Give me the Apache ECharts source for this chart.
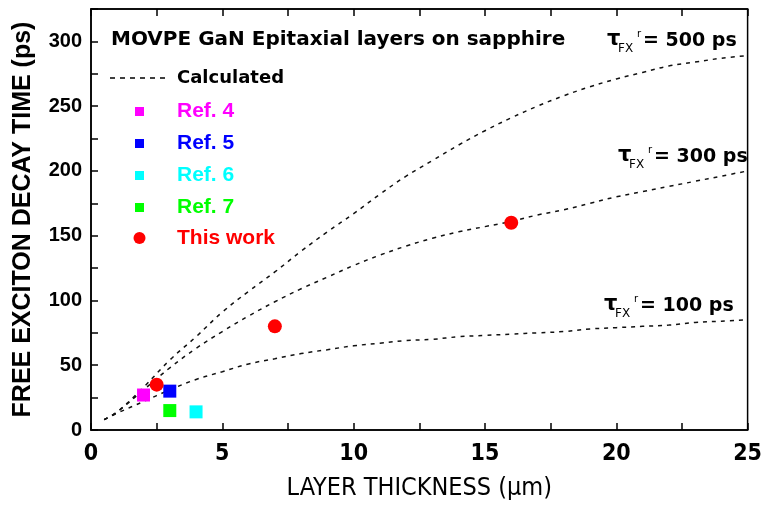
<!DOCTYPE html>
<html>
<head>
    <meta charset="utf-8">
    <title>Free exciton decay time</title>
    <script src="https://cdn.jsdelivr.net/npm/echarts@6.0.0/dist/echarts.min.js"></script>
</head>
<body style="margin:0;background:#fff;">
    <div id="main" style="width:765px;height:506px;"></div>
    <script type="text/javascript">
    // layer thickness (um) for the calculated curves
    var thickness = [0.5, 1, 2, 3, 4, 5, 6, 7, 8, 9, 10, 11, 12, 13, 14, 15, 16, 17, 18, 19, 20, 21, 22, 23, 24, 25];
    // calculated decay time (ps) for tau_FX^r = 500 / 300 / 100 ps
    var calc500 = [8, 14, 33, 54, 72, 91, 107, 122, 138, 153, 167, 182, 196, 208, 220, 231, 241, 250, 258, 265, 271, 276, 281, 284, 287, 289];
    var calc300 = [8, 14, 31, 48, 63, 76, 88, 99, 109, 118, 127, 135, 142, 148, 153, 157, 161, 166, 170, 175, 180, 184, 188, 192, 196, 200];
    var calc100 = [8, 13, 22, 31, 39, 45, 51, 55, 59, 62, 65, 67, 69, 70, 72, 73, 74, 75, 76, 78, 79, 80, 81, 83, 84, 85];

    // measured points [thickness, decay time]
    var ref4 = [[2, 27]];
    var ref5 = [[3, 30]];
    var ref6 = [[4, 14]];
    var ref7 = [[3, 15]];
    var thisWork = [[2.5, 35], [7, 80], [16, 160]];

    var xTicks = [0, 5, 10, 15, 20, 25];
    var yTicks = [0, 50, 100, 150, 200, 250, 300];

    function pairs(xs, ys) {
        var out = [];
        for (var i = 0; i < xs.length; i++) out.push([xs[i], ys[i]]);
        return out;
    }

    var black = '#000';
    var bold = 'bold';

    function curve(name, data) {
        return {
            name: name,
            type: 'line',
            data: pairs(thickness, data),
            smooth: 0.4,
            showSymbol: false,
            silent: true,
            lineStyle: { color: '#111', width: 1.5, type: [4, 5] },
            z: 2
        };
    }

    function points(name, data, symbol, size, color) {
        return {
            name: name,
            type: 'scatter',
            data: data,
            symbol: symbol,
            symbolSize: size,
            itemStyle: { color: color, opacity: 1 },
            z: 5
        };
    }

    // tau label: τ + FX subscript + r superscript + value
    function tauLabel(x, y, txt) {
        return {
            type: 'group',
            x: x,
            y: y,
            children: [
                { type: 'text', x: 0, y: 0, style: { text: 'τ', font: 'bold 21px "DejaVu Sans"', fill: black, verticalAlign: 'middle' } },
                { type: 'text', x: 11, y: 9, style: { text: 'FX', font: '12px "DejaVu Sans"', fill: black, verticalAlign: 'middle' } },
                { type: 'text', x: 30, y: -6, style: { text: 'r', font: '10px "DejaVu Sans"', fill: black, verticalAlign: 'middle' } },
                { type: 'text', x: 36, y: 1, style: { text: txt, font: 'bold 19px "DejaVu Sans"', fill: black, verticalAlign: 'middle' } }
            ]
        };
    }

    var legendRows = [
        { name: 'Ref. 4', color: '#ff00ff', y: 111, symbol: 'rect' },
        { name: 'Ref. 5', color: '#0000ff', y: 143, symbol: 'rect' },
        { name: 'Ref. 6', color: '#00ffff', y: 175, symbol: 'rect' },
        { name: 'Ref. 7', color: '#00ff00', y: 207, symbol: 'rect' },
        { name: 'This work', color: '#ff0000', y: 238, symbol: 'circle' }
    ];

    var graphics = [
        { type: 'text', x: 111, y: 40, style: { text: 'MOVPE GaN Epitaxial layers on sapphire', font: 'bold 20px "DejaVu Sans"', fill: black, verticalAlign: 'middle' } },
        { type: 'line', shape: { x1: 110, y1: 78, x2: 168, y2: 78 }, style: { stroke: black, lineWidth: 1.5, lineDash: [5, 5] } },
        { type: 'text', x: 177, y: 78, style: { text: 'Calculated', font: 'bold 18px "DejaVu Sans"', fill: black, verticalAlign: 'middle' } },
        tauLabel(607, 40, '= 500 ps'),
        tauLabel(618, 156, '= 300 ps'),
        tauLabel(604, 305, '= 100 ps')
    ];
    legendRows.forEach(function (r) {
        if (r.symbol === 'rect') {
            graphics.push({ type: 'rect', shape: { x: 135, y: r.y - 4, width: 9, height: 9 }, style: { fill: r.color } });
        } else {
            graphics.push({ type: 'circle', shape: { cx: 139.5, cy: r.y, r: 6 }, style: { fill: r.color } });
        }
        graphics.push({ type: 'text', x: 177, y: r.y, style: { text: r.name, font: 'bold 21px "Liberation Sans", Arial, sans-serif', fill: r.color, verticalAlign: 'middle' } });
    });

    var myChart = echarts.init(document.getElementById('main'));

    var option = {
        animation: false,
        backgroundColor: '#fff',
        grid: {
            left: 91, right: 13, top: 9, bottom: 72,
            show: true, borderColor: black, borderWidth: 1.5
        },
        xAxis: [{
            type: 'value',
            min: 0, max: 25, interval: 2.5,
            name: 'LAYER THICKNESS (µm)',
            nameLocation: 'middle',
            nameGap: 46,
            nameTextStyle: { color: black, fontSize: 25, fontFamily: '"Liberation Sans Narrow", "DejaVu Sans Condensed", sans-serif' },
            axisLine: { lineStyle: { color: black, width: 1.5 } },
            axisTick: { inside: true, length: 7, lineStyle: { color: black, width: 1.5 } },
            splitLine: { show: false },
            axisLabel: {
                margin: 13,
                color: black,
                fontSize: 23,
                fontWeight: bold,
                fontFamily: '"Liberation Sans Narrow", "DejaVu Sans Condensed", sans-serif',
                formatter: function (v) { return xTicks.indexOf(v) >= 0 ? String(v) : ''; }
            }
        }, {
            type: 'value',
            position: 'top',
            min: 0, max: 25, interval: 2.5,
            axisLine: { show: true, lineStyle: { color: black, width: 1.5 } },
            axisTick: { inside: true, length: 7, lineStyle: { color: black, width: 1.5 } },
            axisLabel: { show: false },
            splitLine: { show: false }
        }],
        yAxis: {
            type: 'value',
            min: 0, max: 325, interval: 25,
            name: 'FREE EXCITON DECAY TIME (ps)',
            nameLocation: 'middle',
            nameGap: 55,
            nameTextStyle: { color: black, fontSize: 25, fontWeight: bold, fontFamily: '"Liberation Sans", Arial, sans-serif' },
            axisLine: { show: true, lineStyle: { color: black, width: 1.5 } },
            axisTick: { inside: true, length: 7, lineStyle: { color: black, width: 1.5 } },
            splitLine: { show: false },
            axisLabel: {
                margin: 9,
                color: black,
                fontSize: 20,
                fontWeight: bold,
                fontFamily: '"Liberation Sans", Arial, sans-serif',
                formatter: function (v) { return yTicks.indexOf(v) >= 0 ? String(v) : ''; }
            }
        },
        graphic: graphics,
        series: [
            curve('500', calc500),
            curve('300', calc300),
            curve('100', calc100),
            points('Ref. 4', ref4, 'rect', 13, '#ff00ff'),
            points('Ref. 5', ref5, 'rect', 13, '#0000ff'),
            points('Ref. 6', ref6, 'rect', 13, '#00ffff'),
            points('Ref. 7', ref7, 'rect', 13, '#00ff00'),
            points('This work', thisWork, 'circle', 14, '#ff0000')
        ]
    };

    myChart.setOption(option);
    </script>
</body>
</html>
